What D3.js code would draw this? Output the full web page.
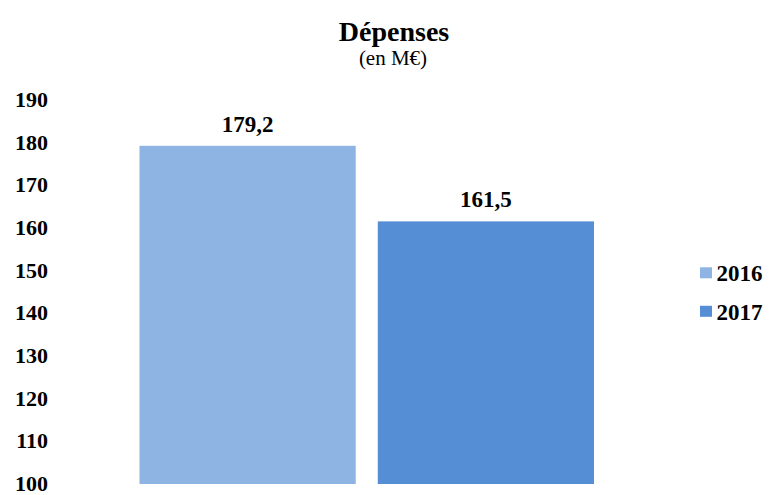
<!DOCTYPE html>
<html><head><meta charset="utf-8">
<script src="https://cdn.jsdelivr.net/npm/d3@7"></script>
<style>html,body{margin:0;padding:0;background:#fff;}svg{display:block;}</style>
</head><body>
<svg id="chart" width="770" height="495"></svg>
<script>
const categories = ["2016", "2017"];
const values = [179.2, 161.5];
const labels = ["179,2", "161,5"];
const colors = ["#8EB4E3", "#558ED5"];
const yTicks = [100, 110, 120, 130, 140, 150, 160, 170, 180, 190];
const title = "Dépenses";
const subtitle = "(en M€)";

const svg = d3.select("#chart");
const font = "Liberation Serif, Times New Roman, serif";

const x = d3.scaleBand().domain(categories).range([139.5, 594]).paddingInner(0.0925).paddingOuter(0);
const y = d3.scaleLinear().domain([100, 190]).range([484, 99.7]);

svg.append("text").attr("x", 394).attr("y", 41).attr("text-anchor", "middle")
  .style("font-family", font).attr("font-weight", "bold").attr("font-size", 28).attr("fill", "#000").text(title);
svg.append("text").attr("x", 393).attr("y", 65).attr("text-anchor", "middle")
  .style("font-family", font).attr("font-size", 21).attr("fill", "#000").text(subtitle);

const yAxis = d3.axisLeft(y).tickValues(yTicks).tickSize(0).tickPadding(0).tickFormat(d3.format("d"));
const gy = svg.append("g").attr("transform", "translate(48,0)").call(yAxis);
gy.select(".domain").remove();
gy.selectAll("text").style("font-family", font).attr("font-weight", "bold").attr("font-size", 22)
  .attr("fill", "#000").attr("dy", "0.3em");

svg.selectAll("rect.bar").data(categories).enter().append("rect").attr("class", "bar")
  .attr("x", d => x(d)).attr("width", x.bandwidth())
  .attr("y", (d, i) => y(values[i])).attr("height", (d, i) => y(100) - y(values[i]))
  .attr("fill", (d, i) => colors[i]);

svg.selectAll("text.val").data(categories).enter().append("text").attr("class", "val")
  .attr("x", d => x(d) + x.bandwidth() / 2).attr("y", (d, i) => y(values[i]) - 14)
  .attr("text-anchor", "middle").style("font-family", font).attr("font-weight", "bold")
  .attr("font-size", 23).attr("fill", "#000").text((d, i) => labels[i]);

const leg = svg.append("g");
categories.forEach((c, i) => {
  const g = leg.append("g").attr("transform", `translate(700,${267.3 + i * 38.5})`);
  g.append("rect").attr("width", 12).attr("height", 11).attr("fill", colors[i]);
  g.append("text").attr("x", 16.5).attr("y", 13.7).style("font-family", font).attr("font-weight", "bold")
    .attr("font-size", 23).attr("fill", "#000").text(c);
});
</script>
</body></html>
